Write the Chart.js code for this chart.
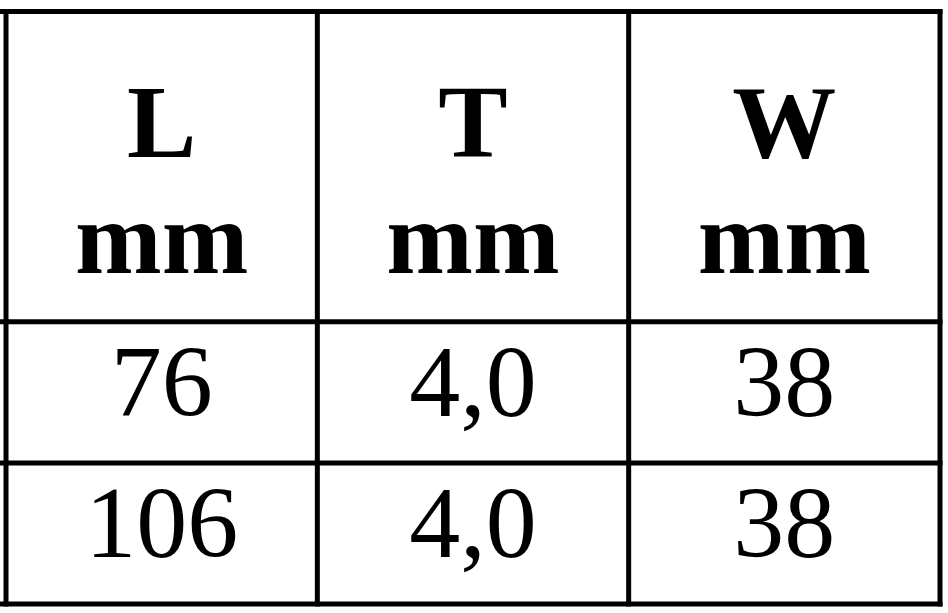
<!DOCTYPE html>
<html>
<head>
    <title>Dimensions table</title>
    <script src="https://cdn.jsdelivr.net/npm/chart.js"></script>
    <style>
        html, body { margin: 0; padding: 0; background: #fff; }
        #wrap { width: 948px; height: 613px; position: relative; }
    </style>
</head>
<body>
    <div id="wrap">
        <canvas id="myChart"></canvas>
    </div>
    <script>
        // Table content
        const columnNames = ['L', 'T', 'W'];
        const columnUnits = ['mm', 'mm', 'mm'];
        const lengthMm = [76, 106];
        const thicknessMm = [4.0, 4.0];
        const widthMm = [38, 38];
        const columnDecimals = [0, 1, 0];

        const columnValues = [lengthMm, thicknessMm, widthMm];
        const headerSpan = 2.2;   // header row is taller than a data row
        const rowCount = lengthMm.length;

        // decimal comma, like the original
        function fmt(v, d) {
            return v.toFixed(d).replace('.', ',');
        }

        const datasets = columnValues.map((vals, c) => ({
            label: columnNames[c],
            data: vals.map((v, i) => ({ x: c + 0.5, y: headerSpan + i + 0.5, v: v })),
            pointRadius: 0,
            pointHoverRadius: 0,
            showLine: false,
        }));

        const tablePlugin = {
            id: 'tableCells',
            afterDatasetsDraw(chart) {
                const ctx = chart.ctx;
                const xs = chart.scales.x;
                const ys = chart.scales.y;
                const xMin = xs.getPixelForValue(xs.min);
                const top = ys.getPixelForValue(0);
                const bottom = ys.getPixelForValue(headerSpan + rowCount);
                const right = xs.getPixelForValue(columnNames.length);

                ctx.save();
                ctx.strokeStyle = '#000';
                ctx.lineWidth = 5;
                ctx.lineCap = 'square';

                // horizontal borders
                const rowEdges = [0, headerSpan];
                for (let i = 1; i <= rowCount; i++) rowEdges.push(headerSpan + i);
                rowEdges.forEach(r => {
                    const y = ys.getPixelForValue(r);
                    ctx.beginPath();
                    ctx.moveTo(xMin - 5, y);
                    ctx.lineTo(right, y);
                    ctx.stroke();
                });

                // vertical borders
                for (let c = 0; c <= columnNames.length; c++) {
                    const x = xs.getPixelForValue(c);
                    ctx.beginPath();
                    ctx.moveTo(x, top);
                    ctx.lineTo(x, bottom);
                    ctx.stroke();
                }

                ctx.fillStyle = '#000';
                ctx.textAlign = 'center';
                ctx.textBaseline = 'alphabetic';

                // header cells
                ctx.font = 'bold 104px "Liberation Serif", "Times New Roman", serif';
                const hy = ys.getPixelForValue(headerSpan / 2);
                columnNames.forEach((name, c) => {
                    const hx = xs.getPixelForValue(c + 0.5);
                    ctx.fillText(name, hx, hy - 10);
                    ctx.fillText(columnUnits[c], hx, hy + 106);
                });

                // value cells
                ctx.font = '102px "Liberation Serif", "Times New Roman", serif';
                chart.data.datasets.forEach((ds, c) => {
                    const meta = chart.getDatasetMeta(c);
                    meta.data.forEach((pt, i) => {
                        ctx.fillText(fmt(ds.data[i].v, columnDecimals[c]), pt.x, pt.y + 24);
                    });
                });
                ctx.restore();
            }
        };

        const ctx = document.getElementById('myChart').getContext('2d');
        const myChart = new Chart(ctx, {
            type: 'scatter',
            data: { datasets: datasets },
            options: {
                responsive: true,
                maintainAspectRatio: false,
                animation: false,
                layout: { padding: 0 },
                plugins: {
                    legend: { display: false },
                    tooltip: { enabled: false },
                },
                events: [],
                scales: {
                    x: {
                        type: 'linear',
                        display: false,
                        min: -0.0193,
                        max: 3.0257,
                    },
                    y: {
                        type: 'linear',
                        display: false,
                        reverse: true,
                        min: -0.0815,
                        max: 4.2638,
                    },
                },
            },
            plugins: [tablePlugin],
        });
    </script>
</body>
</html>
